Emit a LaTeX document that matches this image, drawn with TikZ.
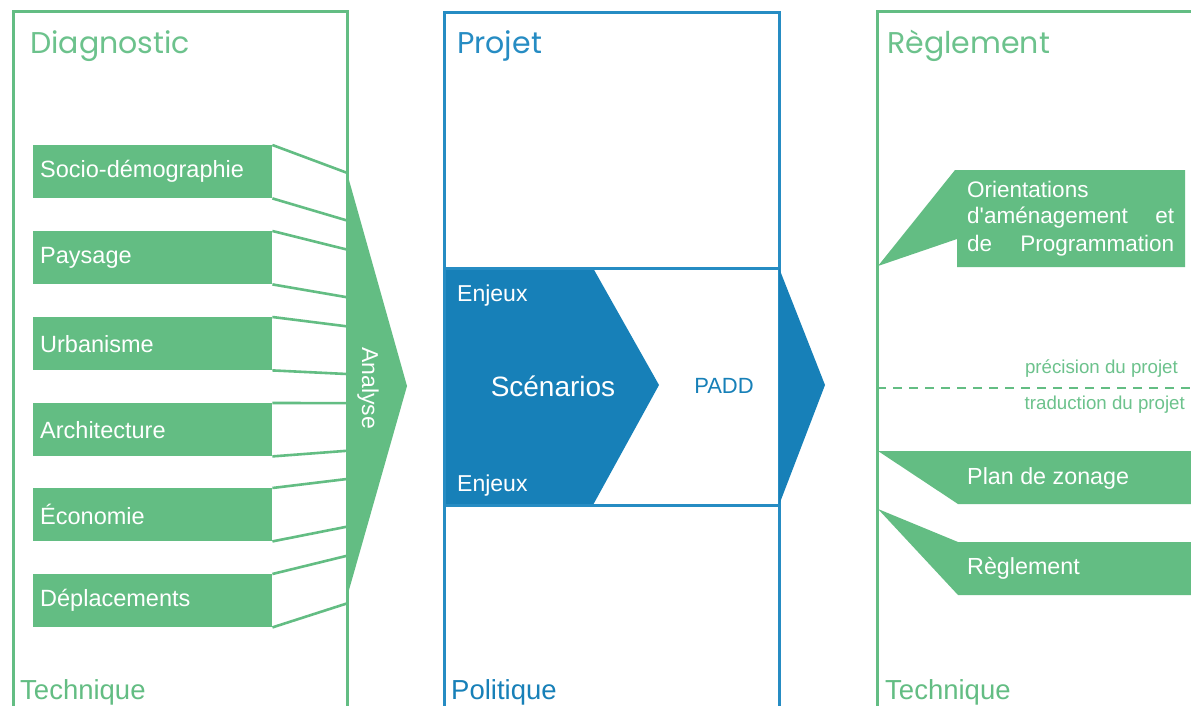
\documentclass[tikz,border=0pt]{standalone}
\usepackage{fontspec}
\setmainfont{Liberation Sans}
\newfontfamily\geo{Poppins}
\usetikzlibrary{calc}
\definecolor{vert}{RGB}{99,189,131}
\definecolor{vertclair}{RGB}{108,194,140}
\definecolor{bleu}{RGB}{23,128,184}
\definecolor{bleuclair}{RGB}{38,140,195}
\newcommand{\fs}[1]{\fontsize{#1}{#1}\selectfont}
\begin{document}
\begin{tikzpicture}[x=1pt,y=-1pt,
  cadre/.style={line width=3pt},
  barre/.style={fill=vert, draw=none, anchor=north west, minimum width=239pt, minimum height=53pt,
     text width=225pt, inner xsep=7pt, inner ysep=0pt, align=left, text=white, font=\fs{23.5}},
  face/.style={draw=vert, line width=2.6pt},
  titre/.style={anchor=base west, inner sep=0pt, font=\geo\fs{30}},
  pied/.style={anchor=base west, inner sep=0pt, font=\fs{27.5}},
  blanc/.style={text=white, inner sep=0pt},
  petit/.style={anchor=base east, inner sep=0pt, text=vertclair, font=\fs{18.7}}
]
\useasboundingbox (0,0) rectangle (1191,705);
\clip (0,0) rectangle (1191,705);
\fill[white] (0,0) rectangle (1191,705);

% ---------- Diagnostic ----------
\draw[cadre, draw=vert] (13,11) rectangle (347,730);
\node[titre, text=vertclair] (tdiag) at (30,53) {Diagnostic};
\node[pied, text=vert] (ptech1) at (20,699) {Technique};

\coordinate (vp) at (967,404);
\foreach \y/\t [count=\i] in {145/Socio-démographie,231/Paysage,317/Urbanisme,403/Architecture,488/Économie,574/Déplacements}{
  \node[barre] (b\i) at (33,\y) {\t};
  \draw[face] (b\i.north east) -- ($(b\i.north east)!0.108!(vp)$);
  \draw[face] (b\i.south east) -- ($(b\i.south east)!0.108!(vp)$);
}
% Analyse arrow
\coordinate (a1) at (347,173);
\coordinate (a2) at (407,386);
\coordinate (a3) at (347,597);
\fill[vert] (a1) -- (a2) -- (a3) -- cycle;
\draw[cadre, draw=vert] (347,11) -- (347,730);
\node[blanc, rotate=-90, font=\fs{23}] (analyse) at (368,388) {Analyse};

% ---------- Projet ----------
\coordinate (p1) at (444,268);
\coordinate (p2) at (593,268);
\coordinate (p3) at (659,385);
\coordinate (p4) at (593,505);
\coordinate (p5) at (444,505);
\fill[bleu] (p1) -- (p2) -- (p3) -- (p4) -- (p5) -- cycle;
\draw[cadre, draw=bleuclair] (444,12) rectangle (779,730);
\draw[cadre, draw=bleuclair] (444,268) -- (779,268);
\draw[cadre, draw=bleuclair] (444,505) -- (779,505);
\coordinate (q1) at (779,268);
\coordinate (q2) at (825,385);
\coordinate (q3) at (779,505);
\fill[bleu] (q1) -- (q2) -- (q3) -- cycle;
\node[titre, text=bleuclair] (tproj) at (457,53) {Projet};
\node[pied, text=bleu] (ppol) at (451,699) {Politique};
\node[blanc, anchor=west, font=\fs{23}] (enj1) at (457,296) {Enjeux};
\node[blanc, anchor=west, font=\fs{23}] (enj2) at (457,486) {Enjeux};
\node[blanc, font=\fs{28}] (scen) at (553,386) {Scénarios};
\node[inner sep=0pt, text=bleu, font=\fs{22}] (padd) at (724,386) {PADD};

% ---------- Règlement ----------
\draw[cadre, draw=vert] (877,11) rectangle (1220,730);
\node[titre, text=vertclair] (tregl) at (887,53) {Règlement};
\node[pied, text=vert] (ptech2) at (885,699) {Technique};

\fill[vert] (878,266) -- (955,170) -- (1185,170) -- (1185,267) -- (957,267) -- (957,239) -- cycle;
\node[blanc, anchor=base west, font=\fs{22.5}] (o1) at (967,197) {Orientations};
\node[blanc, anchor=base west, font=\fs{22.5}, text width=207pt] (o2) at (967,223) {d\textquotesingle aménagement\hfill et};
\node[blanc, anchor=base west, font=\fs{22.5}, text width=207pt] (o3) at (967,251) {de\hfill Programmation};

\node[petit] (prec) at (1178,373) {précision du projet};
\draw[vert, line width=2.4pt, dash pattern=on 9pt off 7pt] (877,388) -- (1191,388);
\node[petit] (trad) at (1185,409) {traduction du projet};

\fill[vert] (878,451) -- (1195,451) -- (1195,504) -- (958,504) -- cycle;
\node[blanc, anchor=west, font=\fs{23.3}] (zon) at (967,478) {Plan de zonage};
\fill[vert] (878,509) -- (958,542) -- (1195,542) -- (1195,595) -- (958,595) -- cycle;
\node[blanc, anchor=west, font=\fs{23.3}] (regl) at (967,568) {Règlement};
\end{tikzpicture}
\end{document}
